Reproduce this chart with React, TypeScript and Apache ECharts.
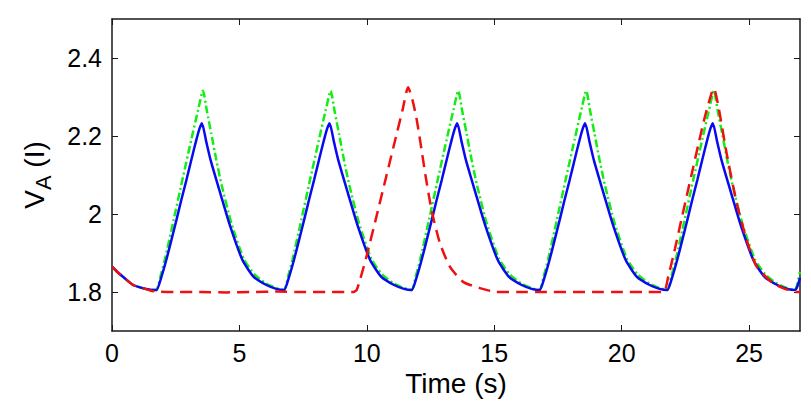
import React, { useEffect, useRef } from "react";
import * as echarts from "echarts";

// ---- data ----
const xTicks = [0, 5, 10, 15, 20, 25];
const yTicks = [1.8, 2.0, 2.2, 2.4];

const blueTime = [
  0, 0.2, 0.43, 0.83, 1.2, 1.5,
  1.74, 1.94, 2.13, 2.33, 2.53, 2.72, 2.92, 3.11, 3.31, 3.44, 3.53, 3.7, 3.87, 4.25, 4.64, 5.12, 5.56, 6.06, 6.45,
  6.75, 6.95, 7.14, 7.34, 7.54, 7.73, 7.93, 8.12, 8.32, 8.45, 8.54, 8.71, 8.88, 9.26, 9.65, 10.13, 10.57, 11.07, 11.46,
  11.76, 11.96, 12.15, 12.35, 12.55, 12.74, 12.94, 13.13, 13.33, 13.46, 13.55, 13.72, 13.89, 14.27, 14.66, 15.14, 15.58, 16.08, 16.47,
  16.78, 16.98, 17.17, 17.37, 17.57, 17.76, 17.96, 18.15, 18.35, 18.48, 18.57, 18.74, 18.91, 19.29, 19.68, 20.16, 20.6, 21.1, 21.49,
  21.79, 21.99, 22.18, 22.38, 22.58, 22.77, 22.97, 23.16, 23.36, 23.49, 23.58, 23.75, 23.92, 24.3, 24.69, 25.17, 25.61, 26.11, 26.5,
  26.8, 26.9, 27,
];
const blueValue = [
  1.865, 1.852, 1.839, 1.818, 1.81, 1.806,
  1.805, 1.839, 1.882, 1.933, 1.985, 2.036, 2.087, 2.138, 2.19, 2.22, 2.233, 2.185, 2.138, 2.053, 1.968, 1.882, 1.839, 1.818, 1.808,
  1.805, 1.839, 1.882, 1.933, 1.985, 2.036, 2.087, 2.138, 2.19, 2.22, 2.233, 2.185, 2.138, 2.053, 1.968, 1.882, 1.839, 1.818, 1.808,
  1.805, 1.839, 1.882, 1.933, 1.985, 2.036, 2.087, 2.138, 2.19, 2.22, 2.233, 2.185, 2.138, 2.053, 1.968, 1.882, 1.839, 1.818, 1.808,
  1.805, 1.839, 1.882, 1.933, 1.985, 2.036, 2.087, 2.138, 2.19, 2.22, 2.233, 2.185, 2.138, 2.053, 1.968, 1.882, 1.839, 1.818, 1.808,
  1.805, 1.839, 1.882, 1.933, 1.985, 2.036, 2.087, 2.138, 2.19, 2.22, 2.233, 2.185, 2.138, 2.053, 1.968, 1.882, 1.839, 1.818, 1.808,
  1.805, 1.815, 1.836,
];

const greenTime = [
  0, 0.2, 0.43, 0.83, 1.2, 1.5,
  1.74, 1.9, 2.07, 2.42, 2.76, 3.11, 3.38, 3.57, 3.73, 3.9, 4.09, 4.3, 4.69, 5.17, 5.59, 6.04, 6.45,
  6.75, 6.91, 7.08, 7.43, 7.77, 8.12, 8.39, 8.58, 8.74, 8.91, 9.1, 9.31, 9.7, 10.18, 10.6, 11.05, 11.46,
  11.76, 11.92, 12.09, 12.44, 12.78, 13.13, 13.4, 13.59, 13.75, 13.92, 14.11, 14.32, 14.71, 15.19, 15.61, 16.06, 16.47,
  16.78, 16.94, 17.11, 17.46, 17.8, 18.15, 18.42, 18.61, 18.77, 18.94, 19.13, 19.34, 19.73, 20.21, 20.63, 21.08, 21.49,
  21.79, 21.95, 22.12, 22.47, 22.81, 23.16, 23.43, 23.62, 23.78, 23.95, 24.14, 24.35, 24.74, 25.22, 25.64, 26.09, 26.5,
  26.8, 26.9, 27,
];
const greenValue = [
  1.865, 1.852, 1.839, 1.818, 1.81, 1.806,
  1.805, 1.84, 1.882, 1.985, 2.087, 2.19, 2.267, 2.316, 2.262, 2.205, 2.14, 2.075, 1.975, 1.885, 1.845, 1.822, 1.81,
  1.805, 1.84, 1.882, 1.985, 2.087, 2.19, 2.267, 2.316, 2.262, 2.205, 2.14, 2.075, 1.975, 1.885, 1.845, 1.822, 1.81,
  1.805, 1.84, 1.882, 1.985, 2.087, 2.19, 2.267, 2.316, 2.262, 2.205, 2.14, 2.075, 1.975, 1.885, 1.845, 1.822, 1.81,
  1.805, 1.84, 1.882, 1.985, 2.087, 2.19, 2.267, 2.316, 2.262, 2.205, 2.14, 2.075, 1.975, 1.885, 1.845, 1.822, 1.81,
  1.805, 1.84, 1.882, 1.985, 2.087, 2.19, 2.267, 2.316, 2.262, 2.205, 2.14, 2.075, 1.975, 1.885, 1.845, 1.822, 1.81,
  1.805, 1.822, 1.852,
];

const redTime = [
  0, 0.2, 0.43, 0.83, 1.2, 1.5,
  1.74, 2.5, 3.5, 4.5, 5.5, 6.5, 7.5, 8.5,
  9.45, 9.6, 9.75, 9.99, 10.38, 10.77, 11.17, 11.4, 11.62,
  11.8, 11.95, 12.1, 12.3, 12.54, 12.87, 13.26, 13.78, 14.44, 15.09,
  16, 17, 18, 19, 20, 21,
  21.65, 21.83, 22.09, 22.36, 22.55, 22.81, 23.01, 23.27, 23.53, 23.62,
  23.8, 24.12, 24.52, 24.91, 25.3, 25.95, 26.4, 26.87, 27,
];
const redValue = [
  1.865, 1.852, 1.839, 1.818, 1.81, 1.804,
  1.801, 1.8, 1.8, 1.799, 1.8, 1.801, 1.8, 1.8,
  1.8, 1.805, 1.835, 1.892, 1.994, 2.098, 2.205, 2.266, 2.325,
  2.29, 2.245, 2.185, 2.1, 2.01, 1.925, 1.865, 1.826, 1.81, 1.8,
  1.8, 1.8, 1.8, 1.8, 1.8, 1.8,
  1.8, 1.84, 1.91, 1.99, 2.045, 2.12, 2.178, 2.25, 2.31, 2.322,
  2.275, 2.156, 2.027, 1.933, 1.865, 1.822, 1.808, 1.8, 1.8,
];

const FONT = "'Liberation Sans', Arial, Helvetica, sans-serif";
const AXIS_COLOR = "#1a1a1a";

const pairs = (t: number[], v: number[]) => t.map((x, i) => [x, v[i]]);

export default function App() {
  const ref = useRef<HTMLDivElement>(null);

  useEffect(() => {
    if (!ref.current) return;
    const chart = echarts.init(ref.current, undefined, { renderer: "svg" });

    const axisLine = { show: true, onZero: false, lineStyle: { color: AXIS_COLOR, width: 1.5 } };

    const option: any = {
      animation: false,
      backgroundColor: "#fff",
      grid: { left: 112, top: 19, right: 11, bottom: 81, containLabel: false },
      xAxis: [
        {
          type: "value",
          min: 0,
          max: 27,
          position: "bottom",
          name: "Time (s)",
          nameLocation: "middle",
          nameGap: 38,
          nameTextStyle: { fontSize: 28, color: "#000", fontFamily: FONT },
          axisLine,
          axisTick: { show: true, inside: true, length: 6, customValues: xTicks, lineStyle: { color: AXIS_COLOR, width: 1 } },
          axisLabel: { customValues: xTicks, fontSize: 25, color: "#000", fontFamily: FONT, margin: 9 },
          splitLine: { show: false },
        },
        {
          type: "value",
          min: 0,
          max: 27,
          position: "top",
          axisLine,
          axisTick: { show: true, inside: true, length: 6, customValues: xTicks, lineStyle: { color: AXIS_COLOR, width: 1 } },
          axisLabel: { show: false },
          splitLine: { show: false },
        },
      ],
      yAxis: [
        {
          type: "value",
          min: 1.7,
          max: 2.5,
          position: "left",
          name: "{v|V}{s|A}{v| (I)}",
          nameLocation: "middle",
          nameGap: 58,
          nameTextStyle: {
            color: "#000",
            fontFamily: FONT,
            rich: {
              v: { fontSize: 28, color: "#000", fontFamily: FONT },
              s: { fontSize: 22, color: "#000", fontFamily: FONT, padding: [18, 0, 0, 0] },
            },
          },
          axisLine,
          axisTick: { show: true, inside: true, length: 6, customValues: yTicks, lineStyle: { color: AXIS_COLOR, width: 1 } },
          axisLabel: { customValues: yTicks, fontSize: 25, color: "#000", fontFamily: FONT, margin: 10 },
          splitLine: { show: false },
        },
        {
          type: "value",
          min: 1.7,
          max: 2.5,
          position: "right",
          axisLine,
          axisTick: { show: true, inside: true, length: 6, customValues: yTicks, lineStyle: { color: AXIS_COLOR, width: 1 } },
          axisLabel: { show: false },
          splitLine: { show: false },
        },
      ],
      series: [
        {
          name: "green",
          type: "line",
          data: pairs(greenTime, greenValue),
          showSymbol: false,
          smooth: 0.2,
          lineStyle: { color: "#11ee11", width: 2.5, type: [8, 3, 2, 3] },
        },
        {
          name: "blue",
          type: "line",
          data: pairs(blueTime, blueValue),
          showSymbol: false,
          smooth: 0.2,
          lineStyle: { color: "#0a0af0", width: 2.5, type: "solid" },
        },
        {
          name: "red",
          type: "line",
          data: pairs(redTime, redValue),
          showSymbol: false,
          smooth: 0.2,
          lineStyle: { color: "#f01010", width: 2.5, type: [12, 7] },
        },
      ],
    };

    chart.setOption(option);
    return () => chart.dispose();
  }, []);

  return (
    <div
      ref={ref}
      style={{ position: "fixed", left: 0, top: 0, width: 811, height: 412, background: "#fff" }}
    />
  );
}
